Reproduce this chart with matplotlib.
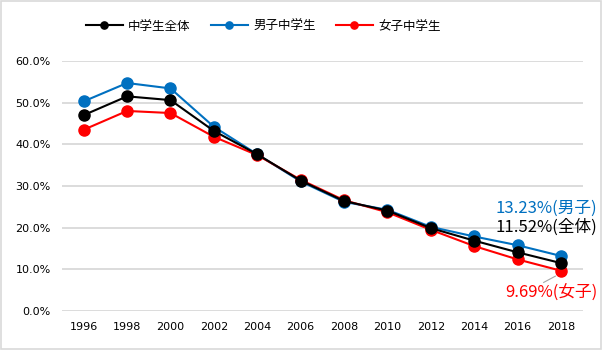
import matplotlib
matplotlib.use("Agg")
import matplotlib.pyplot as plt
from matplotlib.patches import Rectangle

plt.rcParams['font.family'] = ['Noto Sans CJK JP', 'DejaVu Sans']

# data (percent)
years = [1996, 1998, 2000, 2002, 2004, 2006, 2008, 2010, 2012, 2014, 2016, 2018]
total = [47.0, 51.5, 50.6, 43.2, 37.6, 31.3, 26.4, 24.1, 19.9, 16.9, 14.1, 11.52]
boys = [50.3, 54.7, 53.4, 44.2, 37.6, 31.1, 26.2, 24.3, 20.2, 17.9, 15.8, 13.23]
girls = [43.5, 48.0, 47.5, 41.8, 37.4, 31.5, 26.6, 23.7, 19.5, 15.6, 12.4, 9.69]
yticks = [0, 10, 20, 30, 40, 50, 60]

c_total = '#000000'
c_boys = '#0070C0'
c_girls = '#FF0000'

fig = plt.figure(figsize=(6.02, 3.5), dpi=100)
ax = fig.add_axes([0.103, 0.111, 0.865, 0.715])

x = list(range(len(years)))
style = dict(linewidth=1.5, marker='o', markersize=8)
ax.plot(x, boys, color=c_boys, label='男子中学生', **style)
ax.plot(x, girls, color=c_girls, label='女子中学生', **style)
ax.plot(x, total, color=c_total, label='中学生全体', **style)

ax.set_xlim(-0.5, len(years) - 0.5)
ax.set_ylim(0, 60)
ax.set_xticks(x)
ax.set_xticklabels([str(y) for y in years], fontsize=8, family='DejaVu Sans')
ax.set_yticks(yticks)
ax.set_yticklabels([f'{v:.1f}%' for v in yticks], fontsize=8, family='DejaVu Sans')
ax.tick_params(length=0, pad=8)
ax.grid(axis='y', color='#D9D9D9', linewidth=1.3)
ax.set_axisbelow(True)
for s in ax.spines.values():
    s.set_visible(False)

# end labels
ax.text(11.83, boys[-1] + 11.5, f'{boys[-1]:.2f}%(男子)', color=c_boys,
        fontsize=12, ha='right', va='center')
ax.text(11.83, total[-1] + 8.6, f'{total[-1]:.2f}%(全体)', color=c_total,
        fontsize=12, ha='right', va='center')
ax.text(11.83, girls[-1] - 5.3, f'{girls[-1]:.2f}%(女子)', color=c_girls,
        fontsize=12, ha='right', va='center')
ax.plot([10.6, 10.87], [girls[-1] - 2.8, girls[-1] - 1.3], color='#A6A6A6',
        linewidth=0.8, clip_on=False)

# legend
handles, labels = ax.get_legend_handles_labels()
order = [2, 0, 1]
fig.legend([handles[i] for i in order], [labels[i] for i in order],
           loc='center', bbox_to_anchor=(0.437, 0.925), ncol=3, frameon=False,
           fontsize=9, handlelength=3.0, columnspacing=1.6, handletextpad=0.4,
           markerscale=0.65)

# chart border
fig.patches.append(Rectangle((0.002, 0.003), 0.996, 0.994, transform=fig.transFigure,
                             fill=False, edgecolor='#D9D9D9', linewidth=1.2))

fig.savefig('out.png', dpi=100)
